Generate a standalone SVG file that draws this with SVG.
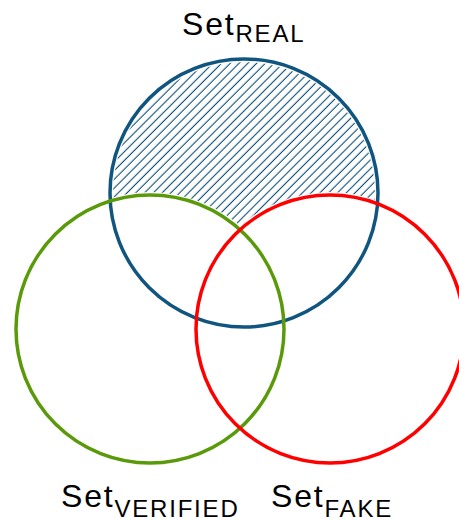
<svg xmlns="http://www.w3.org/2000/svg" width="459" height="519" viewBox="0 0 459 519">
  <style>
    .ring { fill: none; stroke-width: 3.5; }
    .lbl { font-family: "Liberation Sans", Arial, sans-serif; fill: #000; letter-spacing: 1.8px; }
    .main { font-size: 32px; }
    .sub { font-size: 24px; }
  </style>
  <defs>
    <pattern id="hatch" patternUnits="userSpaceOnUse" width="6.2" height="6.2" patternTransform="rotate(45)">
      <line x1="3" y1="0" x2="3" y2="6.2" stroke="#0E4F7A" stroke-width="1.1"/>
    </pattern>
    <mask id="realOnly" maskUnits="userSpaceOnUse" x="0" y="0" width="459" height="519">
      <circle cx="244" cy="193" r="131" fill="#fff"/>
      <circle cx="150" cy="329" r="137" fill="#000"/>
      <circle cx="330" cy="329" r="137" fill="#000"/>
    </mask>
  </defs>
  <g id="hatched-region">
    <rect x="100" y="50" width="290" height="200" fill="url(#hatch)" mask="url(#realOnly)"/>
  </g>
  <g id="set-real">
    <circle class="ring" cx="244" cy="193" r="134" stroke="#10557F"/>
  </g>
  <g id="set-verified">
    <circle class="ring" cx="150" cy="329" r="134" stroke="#5A9A0A"/>
  </g>
  <g id="set-fake">
    <circle class="ring" cx="330" cy="329" r="134" stroke="#FF0000"/>
  </g>
  <g id="labels">
    <text class="lbl main" x="182" y="35">Set<tspan class="sub" y="41.5">REAL</tspan></text>
    <text class="lbl main" x="61" y="507">Set<tspan class="sub" y="516.5">VERIFIED</tspan></text>
    <text class="lbl main" x="271" y="507">Set<tspan class="sub" y="516.5">FAKE</tspan></text>
  </g>
</svg>
